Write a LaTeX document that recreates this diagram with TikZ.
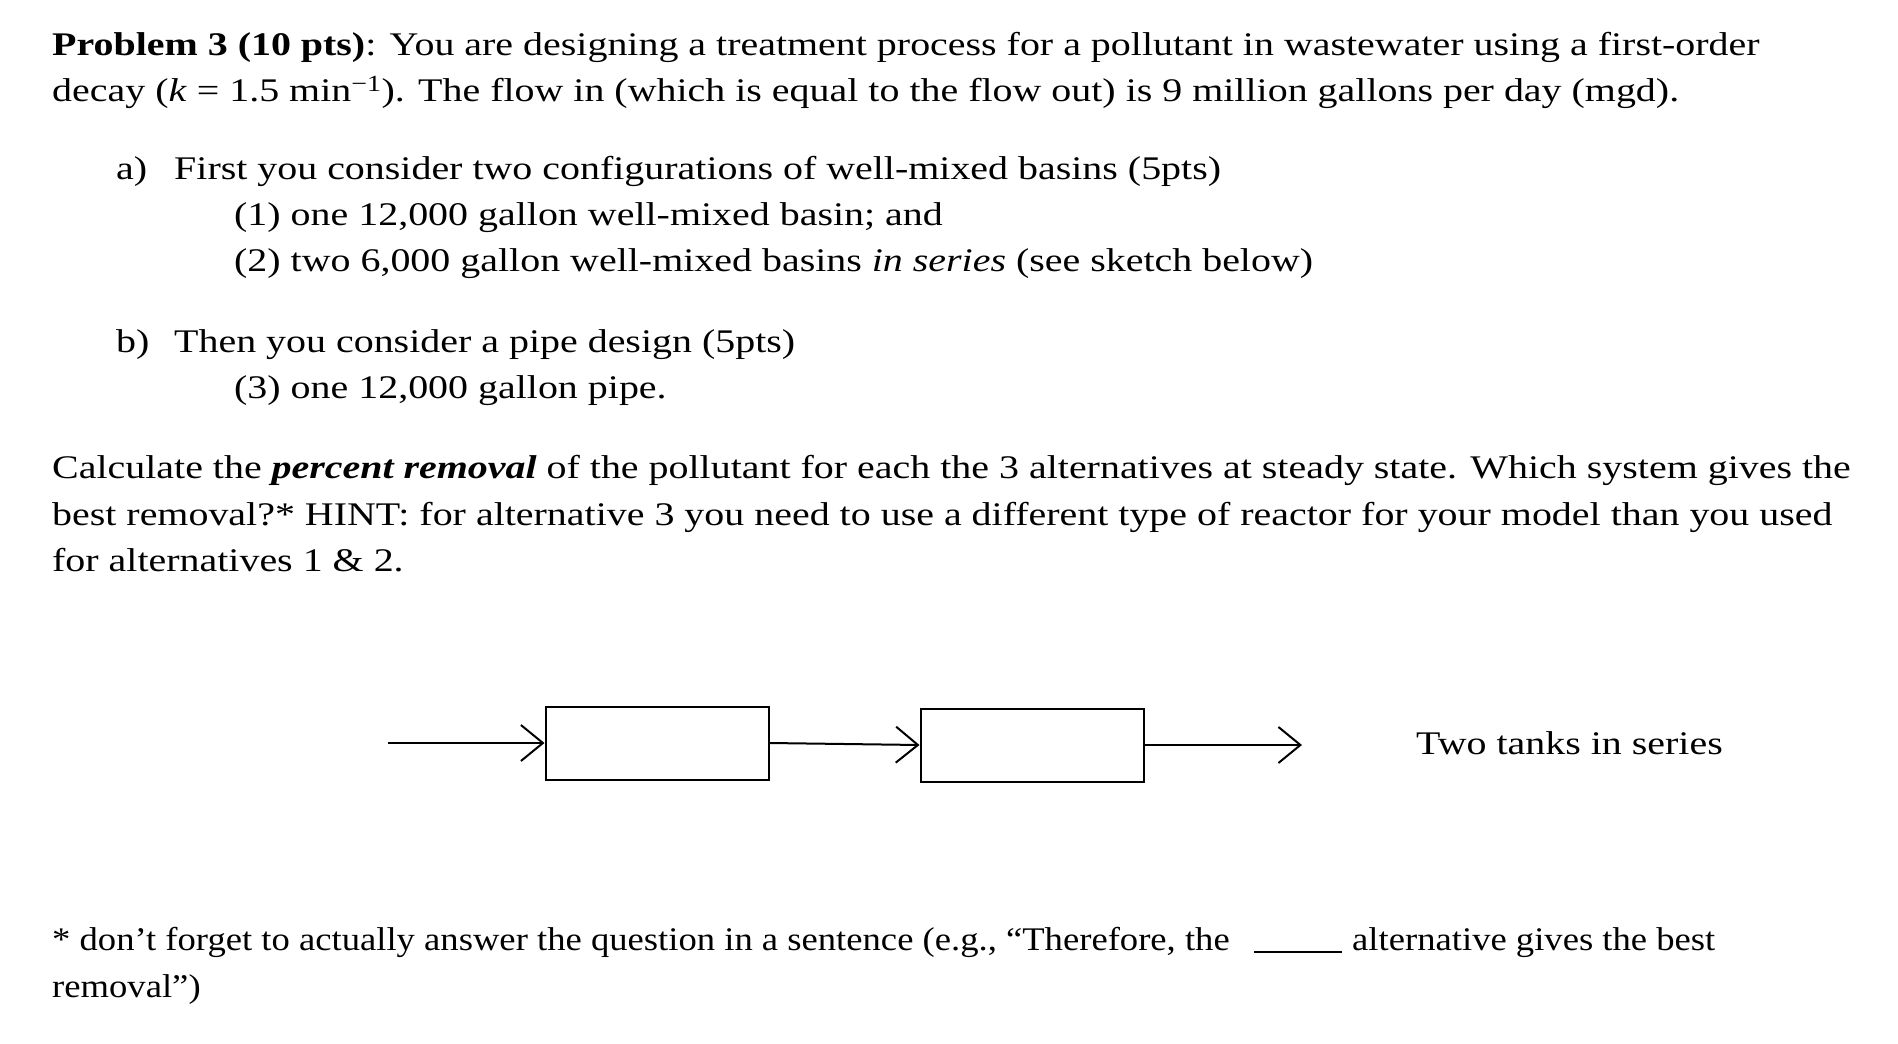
\documentclass[tikz,border=0pt]{standalone}
\usepackage{fontspec}
\setmainfont[FakeStretch=1.21]{Liberation Serif}
\newfontfamily\narrowserif[FakeStretch=1.11]{Liberation Serif}
\usetikzlibrary{arrows.meta}
\begin{document}
\begin{tikzpicture}[x=1pt,y=-1pt,
  txt/.style={anchor=base west,inner sep=0pt,font=\fontsize{33}{40}\selectfont},
  ntxt/.style={anchor=base west,inner sep=0pt,font=\narrowserif\fontsize{33}{40}\selectfont},
  tank/.style={draw,line width=2pt,minimum width=223pt,minimum height=73pt,inner sep=0pt},
  flow/.style={line width=2pt,-{Straight Barb[length=22pt,width=36pt,line width=2pt]}}]
\useasboundingbox (0,0) rectangle (1898,1044);
\node[txt] (l1) at (52,55) {\textbf{Problem 3 (10 pts)}: You are designing a treatment process for a pollutant in wastewater using a first-order};
\node[txt] (l2) at (52,101) {decay (\textit{k} = 1.5 min\textsuperscript{−1}). The flow in (which is equal to the flow out) is 9 million gallons per day (mgd).};
\node[txt] (a1) at (116,179) {a)};
\node[txt] (a2) at (174,179) {First you consider two configurations of well-mixed basins (5pts)};
\node[txt] (a3) at (234,225) {(1) one 12,000 gallon well-mixed basin; and};
\node[txt] (a4) at (234,271) {(2) two 6,000 gallon well-mixed basins \textit{in series} (see sketch below)};
\node[txt] (b1) at (116,352) {b)};
\node[txt] (b2) at (174,352) {Then you consider a pipe design (5pts)};
\node[txt] (b3) at (234,398) {(3) one 12,000 gallon pipe.};
\node[txt] (c1) at (52,478) {Calculate the \textbf{\textit{percent removal}} of the pollutant for each the 3 alternatives at steady state. Which system gives the};
\node[txt] (c2) at (52,525) {best removal?* HINT: for alternative 3 you need to use a different type of reactor for your model than you used};
\node[txt] (c3) at (52,571) {for alternatives 1 \& 2.};
\node[tank] (t1) at (657,743) {};
\node[tank] (t2) at (1032,745) {};
\coordinate (in) at (388,743);
\coordinate (out) at (1302,745);
\draw[flow] (in) -- (t1.west);
\draw[flow] (t1.east) -- (t2.west);
\draw[flow] (t2.east) -- (out);
\node[txt] (lab) at (1416,754) {Two tanks in series};
\node[ntxt] (s1) at (52,950) {* don’t forget to actually answer the question in a sentence (e.g., “Therefore, the};
\draw[line width=1.5pt] (1254,952) -- (1342,952);
\node[ntxt] (s2) at (1352,950) {alternative gives the best};
\node[ntxt] (s3) at (52,997) {removal”)};
\end{tikzpicture}
\end{document}
